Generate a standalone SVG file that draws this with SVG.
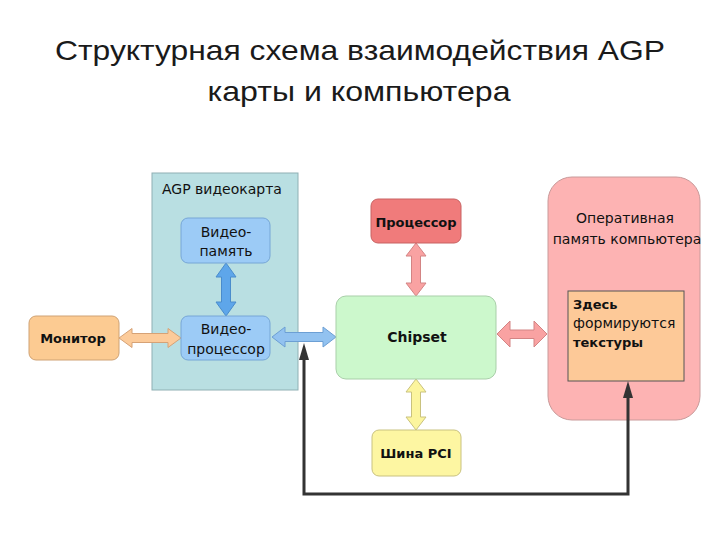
<svg xmlns="http://www.w3.org/2000/svg" width="720" height="540" viewBox="0 0 720 540">
<style>
text{font-family:"DejaVu Sans",Verdana,sans-serif;fill:#111}
.t{font-family:"Liberation Sans",Arial,sans-serif;font-size:28px;text-anchor:middle;fill:#1a1a1a}
.l{font-size:14px}
.c{text-anchor:middle}
.b{font-weight:bold;font-size:13px}
</style>
<rect width="720" height="540" fill="#fff"/>
<text class="t" x="360" y="60" textLength="610" lengthAdjust="spacingAndGlyphs">Структурная схема взаимодействия AGP</text>
<text class="t" x="359" y="101" textLength="303" lengthAdjust="spacingAndGlyphs">карты и компьютера</text>

<g id="agp-card">
<rect x="152" y="173" width="146" height="217" fill="#b9dfe2" stroke="#8fb0b4" stroke-width="1"/>
<text class="l" x="162" y="194">AGP видеокарта</text>
</g>
<g id="ram">
<rect x="548" y="177" width="152" height="243" rx="24" fill="#fdb3b3" stroke="#c99a9a" stroke-width="1"/>
<text class="l c" x="625" y="223">Оперативная</text>
<text class="l c" x="627" y="244">память компьютера</text>
</g>

<g id="connectors">
<polygon points="119,338 132,328.5 132,333.5 168,333.5 168,328.5 181,338 168,347.5 168,342.5 132,342.5 132,347.5" fill="#fccb9a" stroke="#d6a276" stroke-width="1"/>
<polygon points="226,263 236,277 230.5,277 230.5,302 236,302 226,316 216,302 221.5,302 221.5,277 216,277" fill="#5ea6ea" stroke="#4a8ccc" stroke-width="1"/>
<polygon points="272,337 285,327 285,332.5 323,332.5 323,327 336,337 323,347 323,341.5 285,341.5 285,347" fill="#92c2f0" stroke="#6c9fd4" stroke-width="1"/>
<polygon points="416,243 426,256 420.5,256 420.5,283 426,283 416,296 406,283 411.5,283 411.5,256 406,256" fill="#f9a2a2" stroke="#d38484" stroke-width="1"/>
<polygon points="416,379 426,392 420.5,392 420.5,417 426,417 416,430 406,417 411.5,417 411.5,392 406,392" fill="#fcf59e" stroke="#c9c27e" stroke-width="1"/>
<polygon points="497,334 510,321 510,330 534,330 534,321 547,334 534,347 534,338.5 510,338.5 510,347" fill="#f9a2a2" stroke="#d38484" stroke-width="1"/>
<polyline points="304,358 304,494 628,494 628,396" fill="none" stroke="#333" stroke-width="3"/>
<polygon points="304,343 299,360 309,360" fill="#333"/>
<polygon points="628,381 623,398 633,398" fill="#333"/>
</g>

<g id="video-memory">
<rect x="181" y="218" width="89" height="45" rx="7" fill="#9ccbf6" stroke="#76a6d6" stroke-width="1"/>
<text class="l c" x="226" y="237">Видео-</text>
<text class="l c" x="226" y="256">память</text>
</g>
<g id="video-processor">
<rect x="181" y="316" width="89" height="44" rx="7" fill="#9ccbf6" stroke="#76a6d6" stroke-width="1"/>
<text class="l c" x="226" y="334">Видео-</text>
<text class="l c" x="226" y="354">процессор</text>
</g>
<g id="monitor">
<rect x="29" y="316" width="90" height="44" rx="7" fill="#fccb92" stroke="#cfa274" stroke-width="1"/>
<text class="c b" x="73" y="343">Монитор</text>
</g>
<g id="chipset">
<rect x="336" y="296" width="160" height="83" rx="10" fill="#ccf8cc" stroke="#a9cfa9" stroke-width="1"/>
<text class="c b" x="417" y="342" style="font-size:14px">Chipset</text>
</g>
<g id="processor">
<rect x="371" y="199" width="90" height="44" rx="7" fill="#f07b7b" stroke="#c86262" stroke-width="1"/>
<text class="c b" x="416" y="227">Процессор</text>
</g>
<g id="pci">
<rect x="372" y="430" width="89" height="46" rx="7" fill="#fdf6a2" stroke="#c9c280" stroke-width="1"/>
<text class="c b" x="416" y="458">Шина PCI</text>
</g>
<g id="textures">
<rect x="568" y="291" width="116" height="90" fill="#fdc998" stroke="#555" stroke-width="1"/>
<text class="b" x="573" y="309">Здесь</text>
<text class="l" x="573" y="328">формируются</text>
<text class="b" x="573" y="347">текстуры</text>
</g>
</svg>
